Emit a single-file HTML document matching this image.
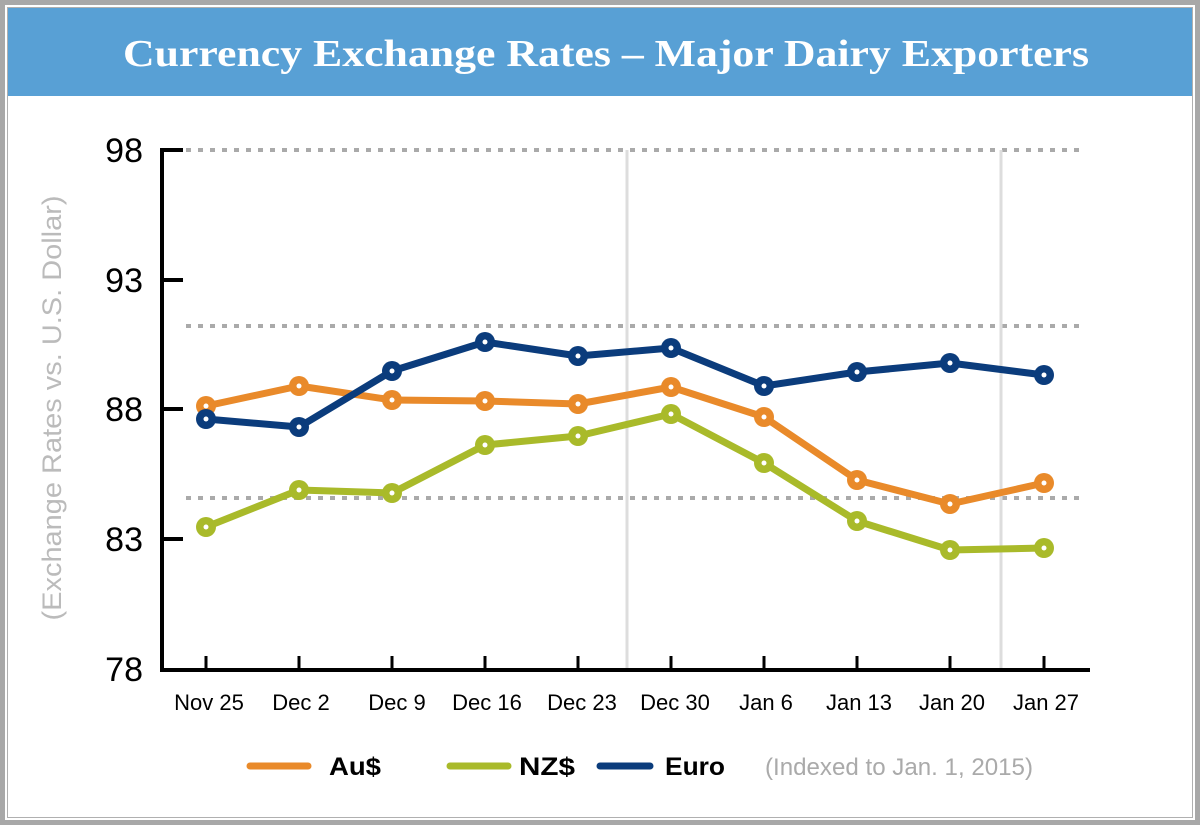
<!DOCTYPE html>
<html><head><style>
body{margin:0;width:1200px;height:825px;background:#fff;overflow:hidden}
</style></head><body>
<svg width="1200" height="825" xmlns="http://www.w3.org/2000/svg" font-family="Liberation Sans, Arial, sans-serif">
<rect x="2.5" y="2.5" width="1195" height="820" fill="#fff" stroke="#a8a8a8" stroke-width="5"/>
<rect x="7.5" y="7.5" width="1185" height="810" fill="none" stroke="#b0b0b0" stroke-width="1"/>
<rect x="8" y="8" width="1184" height="88" fill="#58a0d5"/>
<text x="606" y="66" text-anchor="middle" fill="#fff" font-family="Liberation Serif, serif" font-weight="bold" font-size="38" textLength="966" lengthAdjust="spacingAndGlyphs">Currency Exchange Rates – Major Dairy Exporters</text>
<g stroke="#aaa" stroke-width="4" stroke-dasharray="5,7">
<line x1="186" y1="150" x2="1080" y2="150"/>
<line x1="186" y1="326" x2="1080" y2="326"/>
<line x1="186" y1="498" x2="1080" y2="498"/>
</g>
<g stroke="#ddd" stroke-width="3">
<line x1="627" y1="150" x2="627" y2="668"/>
<line x1="1001" y1="150" x2="1001" y2="668"/>
</g>
<g stroke="#000" stroke-width="4" fill="none">
<polyline points="183,150 162,150 162,670 1090,670"/>
<line x1="162" y1="280" x2="183" y2="280"/>
<line x1="162" y1="409" x2="183" y2="409"/>
<line x1="162" y1="539" x2="183" y2="539"/>
<g stroke-width="3">
<line x1="206" y1="670" x2="206" y2="656"/><line x1="299" y1="670" x2="299" y2="656"/><line x1="392" y1="670" x2="392" y2="656"/><line x1="485" y1="670" x2="485" y2="656"/><line x1="578" y1="670" x2="578" y2="656"/><line x1="671" y1="670" x2="671" y2="656"/><line x1="764" y1="670" x2="764" y2="656"/><line x1="857" y1="670" x2="857" y2="656"/><line x1="950" y1="670" x2="950" y2="656"/><line x1="1044" y1="670" x2="1044" y2="656"/>
</g></g>
<g font-size="34" text-anchor="end" fill="#000">
<text x="143" y="162">98</text><text x="143" y="292">93</text><text x="143" y="421">88</text><text x="143" y="551">83</text><text x="143" y="681">78</text>
</g>
<g font-size="22" text-anchor="middle" fill="#000">
<text x="209" y="710">Nov 25</text><text x="301" y="710">Dec 2</text><text x="397" y="710">Dec 9</text><text x="487" y="710">Dec 16</text><text x="582" y="710">Dec 23</text><text x="675" y="710">Dec 30</text><text x="766" y="710">Jan 6</text><text x="859" y="710">Jan 13</text><text x="952" y="710">Jan 20</text><text x="1046" y="710">Jan 27</text>
</g>
<text transform="translate(61,408) rotate(-90)" text-anchor="middle" font-size="27" fill="#bbb" textLength="425" lengthAdjust="spacingAndGlyphs">(Exchange Rates vs. U.S. Dollar)</text>
<g fill="none" stroke-width="7" stroke-linejoin="round">
<polyline stroke="#a9ba2a" points="206,527 299,490 392,493 485,445 578,436 671,414 764,463 857,521 950,550 1044,548"/>
<polyline stroke="#e98a2a" points="206,406 299,386 392,400 485,401 578,404 671,387 764,417 857,480 950,504 1044,483"/>
</g>
<g fill="#a9ba2a"><circle cx="206" cy="527" r="10"/><circle cx="299" cy="490" r="10"/><circle cx="392" cy="493" r="10"/><circle cx="485" cy="445" r="10"/><circle cx="578" cy="436" r="10"/><circle cx="671" cy="414" r="10"/><circle cx="764" cy="463" r="10"/><circle cx="857" cy="521" r="10"/><circle cx="950" cy="550" r="10"/><circle cx="1044" cy="548" r="10"/></g>
<g fill="#e98a2a"><circle cx="206" cy="406" r="10"/><circle cx="299" cy="386" r="10"/><circle cx="392" cy="400" r="10"/><circle cx="485" cy="401" r="10"/><circle cx="578" cy="404" r="10"/><circle cx="671" cy="387" r="10"/><circle cx="764" cy="417" r="10"/><circle cx="857" cy="480" r="10"/><circle cx="950" cy="504" r="10"/><circle cx="1044" cy="483" r="10"/></g>
<polyline fill="none" stroke="#0b3c7c" stroke-width="7" stroke-linejoin="round" points="206,419 299,427 392,371 485,342 578,356 671,348 764,386 857,372 950,363 1044,375"/>
<g fill="#0b3c7c"><circle cx="206" cy="419" r="10"/><circle cx="299" cy="427" r="10"/><circle cx="392" cy="371" r="10"/><circle cx="485" cy="342" r="10"/><circle cx="578" cy="356" r="10"/><circle cx="671" cy="348" r="10"/><circle cx="764" cy="386" r="10"/><circle cx="857" cy="372" r="10"/><circle cx="950" cy="363" r="10"/><circle cx="1044" cy="375" r="10"/></g>
<g fill="#fff">
<circle cx="206" cy="527" r="2.5"/><circle cx="299" cy="490" r="2.5"/><circle cx="392" cy="493" r="2.5"/><circle cx="485" cy="445" r="2.5"/><circle cx="578" cy="436" r="2.5"/><circle cx="671" cy="414" r="2.5"/><circle cx="764" cy="463" r="2.5"/><circle cx="857" cy="521" r="2.5"/><circle cx="950" cy="550" r="2.5"/><circle cx="1044" cy="548" r="2.5"/>
<circle cx="206" cy="406" r="2.5"/><circle cx="299" cy="386" r="2.5"/><circle cx="392" cy="400" r="2.5"/><circle cx="485" cy="401" r="2.5"/><circle cx="578" cy="404" r="2.5"/><circle cx="671" cy="387" r="2.5"/><circle cx="764" cy="417" r="2.5"/><circle cx="857" cy="480" r="2.5"/><circle cx="950" cy="504" r="2.5"/><circle cx="1044" cy="483" r="2.5"/>
<circle cx="206" cy="419" r="2.5"/><circle cx="299" cy="427" r="2.5"/><circle cx="392" cy="371" r="2.5"/><circle cx="485" cy="342" r="2.5"/><circle cx="578" cy="356" r="2.5"/><circle cx="671" cy="348" r="2.5"/><circle cx="764" cy="386" r="2.5"/><circle cx="857" cy="372" r="2.5"/><circle cx="950" cy="363" r="2.5"/><circle cx="1044" cy="375" r="2.5"/>
</g>
<g stroke-width="7" stroke-linecap="round">
<line x1="250" y1="766" x2="308" y2="766" stroke="#e98a2a"/>
<line x1="450" y1="766" x2="508" y2="766" stroke="#a9ba2a"/>
<line x1="600" y1="766" x2="650" y2="766" stroke="#0b3c7c"/>
</g>
<g font-size="25" fill="#000" font-weight="bold">
<text x="329" y="775" textLength="52" lengthAdjust="spacingAndGlyphs">Au$</text><text x="519" y="775" textLength="56" lengthAdjust="spacingAndGlyphs">NZ$</text><text x="665" y="775" textLength="60" lengthAdjust="spacingAndGlyphs">Euro</text>
</g>
<text x="765" y="775" font-size="24" fill="#aaa" textLength="268" lengthAdjust="spacingAndGlyphs">(Indexed to Jan. 1, 2015)</text>
</svg>
</body></html>
